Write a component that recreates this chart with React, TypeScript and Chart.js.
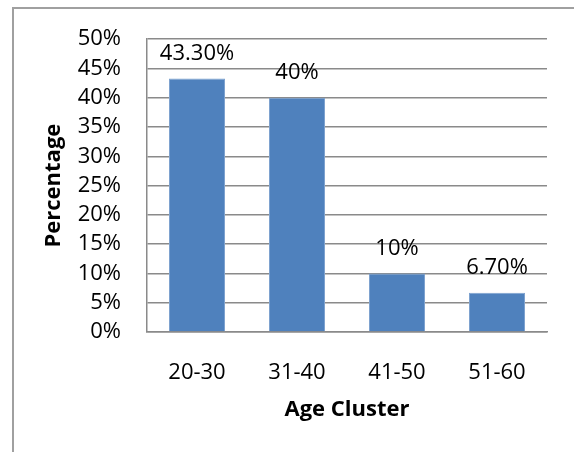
import React, { useEffect, useRef } from "react";
import { Chart, registerables } from "chart.js";

Chart.register(...registerables);

const categories = ["20-30", "31-40", "41-50", "51-60"];
const values = [43.3, 40, 10, 6.7];
const valueLabels = ["43.30%", "40%", "10%", "6.70%"];
const yTickMax = 50;
const yTickStep = 5;

const FONT = "'Open Sans', 'Noto Sans', sans-serif";
const FS = 22;
const GRID = "#8a8a8a";

const dataLabelPlugin = {
  id: "valueLabels",
  afterDatasetsDraw(chart: any) {
    const ctx = chart.ctx;
    const meta = chart.getDatasetMeta(0);
    ctx.save();
    ctx.font = `${FS}px ${FONT}`;
    ctx.fillStyle = "#000";
    ctx.textAlign = "center";
    ctx.textBaseline = "middle";
    meta.data.forEach((el: any, i: number) => {
      ctx.fillText(valueLabels[i], el.x, el.y - 25);
    });
    ctx.restore();
  },
};

export default function App() {
  const ref = useRef<HTMLCanvasElement>(null);
  useEffect(() => {
    if (!ref.current) return;
    const chart = new Chart(ref.current, {
      type: "bar",
      data: {
        labels: categories,
        datasets: [
          {
            data: values,
            backgroundColor: "#4F81BD",
            borderColor: "#7ea2cf",
            borderWidth: 1,
            barPercentage: 0.56,
            categoryPercentage: 1,
          },
        ],
      },
      options: {
        responsive: false,
        animation: false,
        layout: { padding: { left: 0, top: 37, right: 27, bottom: 0 } },
        plugins: { legend: { display: false }, tooltip: { enabled: false } },
        scales: {
          x: {
            afterFit: (s: any) => {
              s.height = 120;
            },
            grid: { display: false },
            border: { display: true, color: GRID, width: 1.5 },
            ticks: {
              padding: 20,
              autoSkip: false,
              maxRotation: 0,
              color: "#000",
              font: { family: FONT, size: FS },
            },
            title: {
              display: true,
              text: "Age Cluster",
              color: "#000",
              font: { family: FONT, size: FS, weight: "bold" },
              padding: { top: 0, bottom: 29 },
            },
          },
          y: {
            min: 0,
            max: yTickMax,
            afterFit: (s: any) => {
              s.width = 147;
            },
            grid: { color: GRID, lineWidth: 1.5, drawTicks: false },
            border: { display: true, color: GRID, width: 1.5 },
            ticks: {
              stepSize: yTickStep,
              autoSkip: false,
              padding: 26,
              color: "#000",
              font: { family: FONT, size: FS },
              callback: (v: any) => `${v}%`,
            },
            title: {
              display: true,
              text: "Percentage",
              color: "#000",
              font: { family: FONT, size: FS, weight: "bold" },
              padding: { top: 41, bottom: 0 },
            },
          },
        },
      },
      plugins: [dataLabelPlugin],
    });
    return () => chart.destroy();
  }, []);

  return (
    <div
      style={{
        position: "absolute",
        left: 0,
        top: 0,
        width: 574,
        height: 452,
        overflow: "hidden",
        background: "#fff",
      }}
    >
      <div
        style={{
          position: "absolute",
          left: 12,
          top: 7,
          width: 700,
          height: 600,
          borderLeft: "2px solid #a0a0a0",
          borderTop: "2px solid #a0a0a0",
        }}
      />
      <canvas
        ref={ref}
        width={574}
        height={452}
        style={{ position: "absolute", left: 0, top: 0, width: 574, height: 452 }}
      />
    </div>
  );
}
